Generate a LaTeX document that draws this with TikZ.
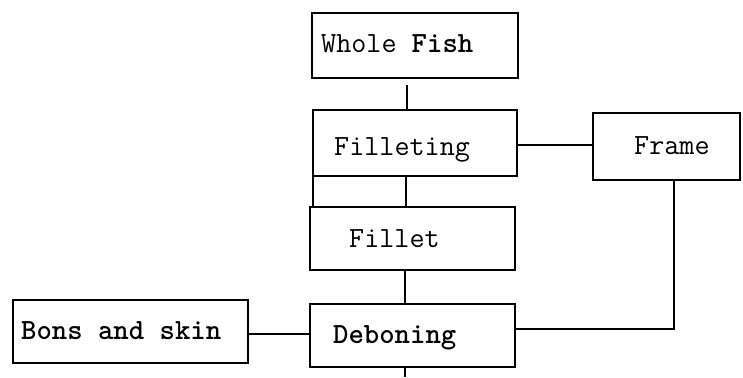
\documentclass[tikz,border=0pt]{standalone}
\begin{document}
\begin{tikzpicture}[x=1pt,y=-1pt,
  box/.style={draw=black,line width=2pt,minimum width=#1,inner sep=0pt,outer sep=0pt},
  lbl/.style={anchor=base west,inner sep=0pt,font=\ttfamily\fontsize{29.3}{34}\selectfont},
  conn/.style={draw=black,line width=1.8pt}]
\useasboundingbox[fill=white] (0,0) rectangle (743,377);
% boxes
\node[box=206pt,minimum height=65pt] (wf) at (415,45.5) {};
\node[box=204pt,minimum height=66pt] (fil) at (415,143) {};
\node[box=205pt,minimum height=63pt] (fillet) at (412.5,238.5) {};
\node[box=205pt,minimum height=63pt] (deb) at (412.5,335.5) {};
\node[box=147pt,minimum height=67pt] (frame) at (666.5,146.5) {};
\node[box=235pt,minimum height=63pt] (bons) at (130.5,331.5) {};
% labels
\node[lbl] (twf) at (321,53) {Whole \textbf{Fish}};
\node[lbl] (tfil) at (334,155) {Filleting};
\node[lbl] (tfillet) at (349,247) {Fillet};
\node[lbl] (tdeb) at (333,343) {\textbf{Deboning}};
\node[lbl] (tframe) at (634,154) {Frame};
\node[lbl] (tbons) at (21,339) {\textbf{Bons and skin}};
% connectors
\coordinate (c1) at (407,85);
\draw[conn] (c1) -- (c1 |- fil.north);
\draw[conn] ([xshift=-9pt]fil.south) -- ([xshift=-9pt]fil.south |- fillet.north);
\draw[line width=2pt] (fil.south west) -- (fil.south west |- fillet.north);
\draw[conn] ([xshift=-7.5pt]fillet.south) -- ([xshift=-7.5pt]fillet.south |- deb.north);
\coordinate (c2) at (405,377);
\draw[conn] ([xshift=-7.5pt]deb.south) -- (c2);
\draw[conn] (fil.east |- 0,145) -- (frame.west |- 0,145);
\draw[conn] ([xshift=7.5pt]frame.south) |- ([yshift=6.5pt]deb.east);
\draw[conn] (bons.east |- 0,334) -- (deb.west |- 0,334);
\end{tikzpicture}
\end{document}
